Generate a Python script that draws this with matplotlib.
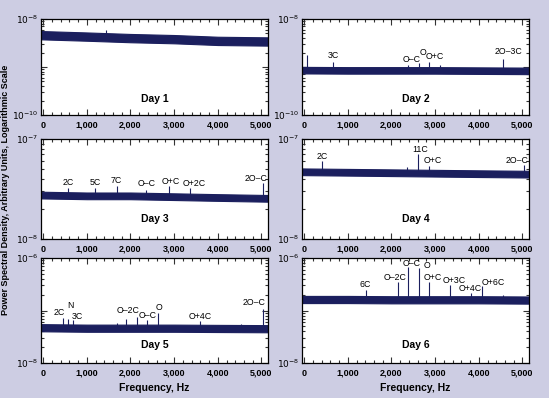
import math
import numpy as np
import matplotlib
matplotlib.use('Agg')
import matplotlib.pyplot as plt
from matplotlib.ticker import MultipleLocator, LogLocator, FixedLocator, NullFormatter

plt.rcParams['font.family'] = ['Liberation Sans', 'DejaVu Sans']

NAVY = '#1b1f5e'
BG = '#cdcde3'

days = ['Day 1', 'Day 2', 'Day 3', 'Day 4', 'Day 5', 'Day 6']
ylow = [1e-10, 1e-10, 1e-8, 1e-8, 1e-8, 1e-8]
yhigh = [1e-8, 1e-8, 1e-7, 1e-7, 1e-6, 1e-6]

# noise floor (band centre) read at a few frequencies
band_freq = [-50, 1000, 2000, 3000, 4000, 5150]
band_level = [
    [4.6e-9, 4.3e-9, 4.0e-9, 3.8e-9, 3.5e-9, 3.4e-9],
    [8.6e-10, 8.5e-10, 8.5e-10, 8.5e-10, 8.4e-10, 8.3e-10],
    [2.75e-8, 2.7e-8, 2.7e-8, 2.65e-8, 2.6e-8, 2.55e-8],
    [4.7e-8, 4.65e-8, 4.6e-8, 4.55e-8, 4.5e-8, 4.45e-8],
    [4.7e-8, 4.6e-8, 4.6e-8, 4.6e-8, 4.55e-8, 4.5e-8],
    [1.62e-7, 1.62e-7, 1.6e-7, 1.6e-7, 1.6e-7, 1.58e-7],
]
# band half-thickness (multiplicative factor)
band_factor = [1.22, 1.17, 1.08, 1.08, 1.17, 1.17]

# labelled peaks: name, frequency (Hz), peak value
peak_names = [
    [],
    ['3C', 'O\u2013C', 'O', 'O+C', '2O\u20133C'],
    ['2C', '5C', '7C', 'O\u2013C', 'O+C', 'O+2C', '2O\u2013C'],
    ['2C', '11C', 'O+C', '2O\u2013C'],
    ['2C', 'N', '3C', 'O\u20132C', 'O\u2013C', 'O', 'O+4C', '2O\u2013C'],
    ['6C', 'O\u20132C', 'O\u2013C', 'O', 'O+C', 'O+3C', 'O+4C', 'O+6C'],
]
peak_freq = [
    [],
    [670, 2370, 2620, 2870, 4555],
    [572, 1183, 1680, 2366, 2876, 3373, 5034],
    [418, 2605, 2848, 5028],
    [443, 572, 687, 1908, 2389, 2632, 3586, 5034],
    [1405, 2141, 2378, 2620, 2863, 3349, 3827, 4071],
]
peak_value = [
    [],
    [1.3e-9, 1.1e-9, 1.2e-9, 1.25e-9, 1.5e-9],
    [3.2e-8, 3.2e-8, 3.35e-8, 3.1e-8, 3.35e-8, 3.2e-8, 3.65e-8],
    [6.0e-8, 7.0e-8, 5.4e-8, 5.5e-8],
    [7.3e-8, 7.0e-8, 6.5e-8, 7.0e-8, 6.5e-8, 9.1e-8, 6.3e-8, 1.07e-7],
    [2.5e-7, 3.5e-7, 6.8e-7, 6.4e-7, 3.5e-7, 3.06e-7, 2.2e-7, 2.9e-7],
]
# label offsets from peak tip (pixels)
label_off = [
    [],
    [(0, 6), (4, 6), (4, 11), (5, 6), (5, 7)],
    [(0, 6), (0, 6), (0, 6), (0, 6), (2, 5), (4, 5), (-7, 4)],
    [(0, 5), (2, 5), (4, 5), (-7, 4)],
    [(-3, 5), (2, 13), (4, 4), (2, 8), (0, 5), (1, 5), (0, 5), (-9, 6)],
    [(0, 5), (-3, 4), (4, 3), (8, 3), (4, 4), (4, 4), (-1, 4), (11, 4)],
]
# unlabelled spikes
extra_freq = [[1450], [62, 3110], [], [2355], [1680, 2151, 4540], [4550]]
extra_value = [[5.9e-9], [1.8e-9, 1.1e-9], [], [5.3e-8], [5.8e-8, 7.6e-8, 5.6e-8], [2.0e-7]]

xticks = [0, 1000, 2000, 3000, 4000, 5000]
xticklabels = ['0', '1,000', '2,000', '3,000', '4,000', '5,000']

W, H = 549, 398
fig = plt.figure(figsize=(W / 100, H / 100), dpi=100, facecolor=BG)

col_x = [41, 302]
col_w = 227
rows = [(19, 115), (139, 239), (258, 363)]


def exp_label(v):
    e = int(round(math.log10(v)))
    return r'$10^{%d}$' % e


def floor_at(i, fr):
    return 10 ** np.interp(fr, band_freq, np.log10(band_level[i]))


for i in range(6):
    r, c = divmod(i, 2)
    top, bot = rows[r]
    ax = fig.add_axes([col_x[c] / W, 1 - bot / H, col_w / W, (bot - top) / H])
    ax.set_facecolor('white')
    ax.set_yscale('log')
    ax.set_xlim(-50, 5150)
    ax.set_ylim(ylow[i], yhigh[i])

    lev = band_level[i]
    f = band_factor[i]
    ax.fill_between(band_freq, [v / f for v in lev], [v * f for v in lev],
                    color=NAVY, lw=0.8, edgecolor=NAVY, zorder=2)
    # spikes
    for fr, pv in zip(extra_freq[i], extra_value[i]):
        ax.vlines(fr, floor_at(i, fr), pv, color=NAVY, lw=0.8, zorder=3)
    for name, fr, pv, (dx, dy) in zip(peak_names[i], peak_freq[i], peak_value[i], label_off[i]):
        ax.vlines(fr, floor_at(i, fr), pv, color=NAVY, lw=0.8, zorder=3)
        ax.annotate(name, (fr, pv), xytext=(dx * 0.72, dy * 0.72), textcoords='offset points',
                    ha='center', va='center', fontsize=6.3, color='black', zorder=4)

    ax.text(0.5, 0.17 if r != 1 else 0.2, days[i], transform=ax.transAxes, ha='center',
            va='center', fontsize=7.5, fontweight='bold')

    # ticks
    ax.xaxis.set_major_locator(FixedLocator(xticks))
    ax.set_xticklabels(xticklabels)
    ax.xaxis.set_minor_locator(MultipleLocator(200))
    ax.yaxis.set_minor_locator(LogLocator(base=10, subs=range(2, 10), numticks=20))
    ax.yaxis.set_minor_formatter(NullFormatter())
    wide = yhigh[i] / ylow[i] > 10
    ax.set_yticks([ylow[i], yhigh[i]] + ([ylow[i] * 10] if wide else []))
    ax.set_yticklabels([exp_label(ylow[i]), exp_label(yhigh[i])] + ([''] if wide else []))
    ax.tick_params(which='both', direction='in', top=True, right=True, width=0.8, color='#333333')
    ax.tick_params(which='major', length=4)
    ax.tick_params(which='minor', length=2.5)
    ax.tick_params(axis='x', labelsize=6.5, pad=4)
    ax.tick_params(axis='y', labelsize=6.5, pad=2)
    for lab in ax.get_xticklabels():
        lab.set_fontweight('bold')
    for s in ax.spines.values():
        s.set_linewidth(0.9)
    if r == 2:
        ax.set_xlabel('Frequency, Hz', fontsize=7.5, fontweight='bold', labelpad=4)

fig.text(6 / W, 1 - 190 / H, 'Power Spectral Density, Arbitrary Units, Logarithmic Scale',
         rotation=90, ha='center', va='center', fontsize=6.5, fontweight='bold')

fig.savefig('out.png', dpi=100, facecolor=BG)
